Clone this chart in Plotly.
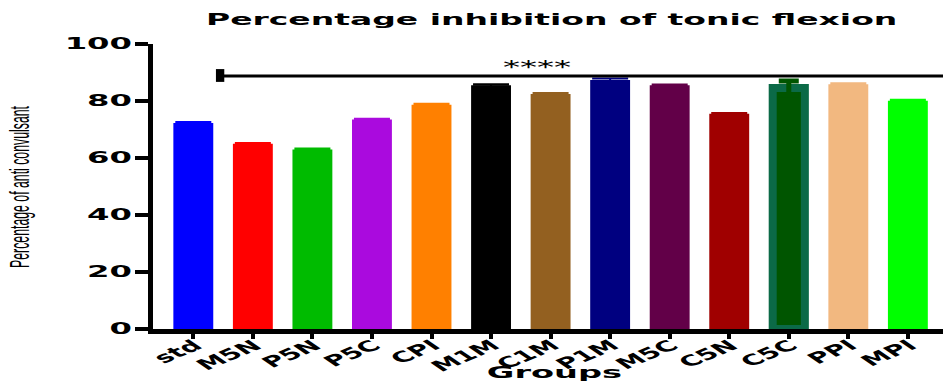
import plotly.graph_objects as go

groups = ["std", "M5N", "P5N", "P5C", "CPI", "M1M", "C1M", "P1M", "M5C", "C5N", "C5C", "PPI", "MPI"]
values = [72.3, 65.0, 63.0, 73.5, 78.7, 85.5, 82.5, 87.4, 85.5, 75.5, 84.6, 85.9, 80.1]
errors = [0.3, 0.3, 0.3, 0.3, 0.3, 0.4, 0.3, 0.5, 0.3, 0.3, 2.4, 0.3, 0.3]
colors = ["#0000ff", "#ff0000", "#00bb00", "#aa0ade", "#ff8000", "#000000", "#936020",
          "#000080", "#620048", "#a00000", "#005500", "#f2b880", "#00ff00"]
y_ticks = [0, 20, 40, 60, 80, 100]

FONT = "DejaVu Sans"

fig = go.Figure()
for g, v, e, c in zip(groups, values, errors, colors):
    special = g == "C5C"
    fig.add_trace(go.Bar(
        x=[g], y=[v],
        width=0.54 if special else 0.67,
        marker=dict(color=c,
                    line=dict(color="#0b6a47" if special else c, width=8 if special else 0)),
        error_y=dict(type="data", array=[e], color=c, thickness=5 if special else 2,
                     width=10 if special else 18, visible=True),
        showlegend=False,
    ))

# significance bracket
fig.add_shape(type="line", xref="x", yref="y", x0=0.45, x1=12.59, y0=88.8, y1=88.8,
              line=dict(color="black", width=3))
fig.add_shape(type="rect", xref="x", yref="y", x0=0.38, x1=0.52, y0=86.7, y1=91.2,
              fillcolor="black", line=dict(width=0))

fig.add_annotation(text="<b>Groups</b>", xref="paper", yref="paper", x=0.507, y=-0.151,
                   showarrow=False, font=dict(family=FONT, size=16, color="black"),
                   xanchor="center", yanchor="middle")
fig.add_annotation(text="****", xref="x", yref="y", x=5.77, y=91.8, showarrow=False,
                   font=dict(family=FONT, size=17, color="black"),
                   xanchor="center", yanchor="middle")
fig.add_annotation(text="Percentage of anti convulsant", xref="paper", yref="paper",
                   x=-0.169, y=0.5, textangle=-90, showarrow=False,
                   font=dict(family="Liberation Sans, Arial, sans-serif", size=12.3, color="black"),
                   xanchor="center", yanchor="middle")

fig.update_layout(
    width=943, height=381, autosize=False,
    margin=dict(l=153, r=0, t=44, b=52, autoexpand=False),
    plot_bgcolor="white", paper_bgcolor="white",
    title=dict(text="<b>Percentage inhibition of tonic flexion</b>", x=0.585, xref="container",
               y=0.947, yref="container", xanchor="center", yanchor="middle",
               font=dict(family=FONT, size=15, color="black")),
    font=dict(family=FONT, color="black"),
    xaxis=dict(range=[-0.677, 12.59], showline=True, linecolor="black", linewidth=5,
               ticks="outside", ticklen=5, tickwidth=4, tickcolor="black", automargin=False,
               tickangle=-38, tickfont=dict(family=FONT, size=15, color="black", weight="bold"),
               showgrid=False, zeroline=False),
    yaxis=dict(range=[0, 100], tickvals=y_ticks, showline=True, linecolor="black", linewidth=5,
               ticks="outside", ticklen=13, tickwidth=4, tickcolor="black", automargin=False,
               tickfont=dict(family=FONT, size=15, color="black", weight="bold"),
               showgrid=False, zeroline=False),
    bargap=0.3,
)

post = """
document.body.style.margin = '0';
document.documentElement.style.overflow = 'hidden';
var gd = document.getElementById('{plot_id}');
function stretch(el, s, mode, dx, dy) {
  dx = dx || 0; dy = dy || 0;
  var svg = el.ownerSVGElement;
  var r = el.getBoundingClientRect();
  var ax = (mode.indexOf('right') >= 0) ? r.right : (r.left + r.right) / 2;
  var ay = (mode.indexOf('top') >= 0) ? r.top : (r.top + r.bottom) / 2;
  var pt = svg.createSVGPoint(); pt.x = ax; pt.y = ay;
  var p = pt.matrixTransform(el.parentNode.getScreenCTM().inverse());
  var old = el.getAttribute('transform') || '';
  el.setAttribute('transform', 'translate(' + (p.x + dx) + ',' + (p.y + dy) + ') scale(' + s + ',1) translate(' +
                  (-p.x) + ',' + (-p.y) + ') ' + old);
}
gd.querySelectorAll('.gtitle').forEach(function(t){ stretch(t, 2.2, 'center'); });
gd.querySelectorAll('.xtick text').forEach(function(t){ stretch(t, 1.9, 'topright', 8, -8); });
gd.querySelectorAll('.ytick text').forEach(function(t){ stretch(t, 2.15, 'right'); });
var ann = gd.querySelectorAll('.annotation-text-g');
if (ann[0]) stretch(ann[0], 2.1, 'center');
if (ann[1]) stretch(ann[1], 2.0, 'center');
if (ann[2]) stretch(ann[2], 2.2, 'center');
"""
fig.write_html("out.html", post_script=post, config={"displayModeBar": False})
